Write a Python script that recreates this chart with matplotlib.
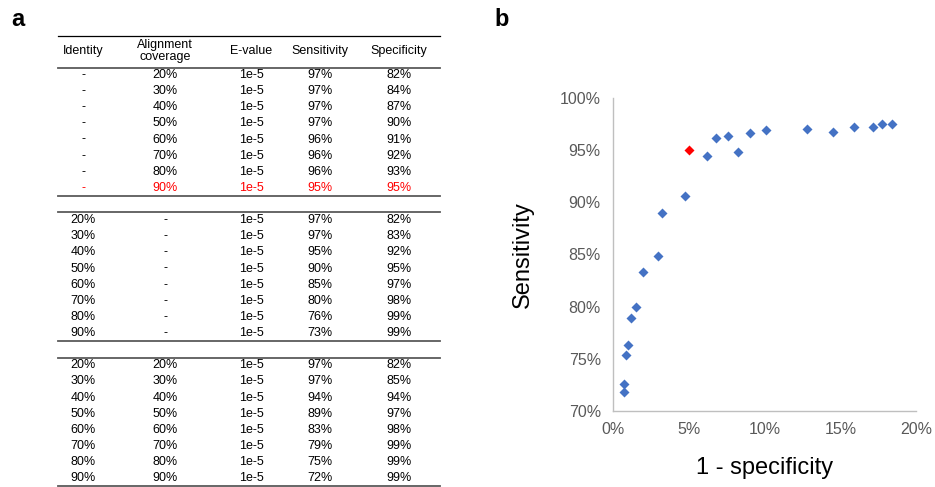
import matplotlib.pyplot as plt
from matplotlib.ticker import PercentFormatter

plt.rcParams['font.family'] = ['Liberation Sans', 'DejaVu Sans']

# ---- table data (panel a) ----
headers = ['Identity', 'Alignment\ncoverage', 'E-value', 'Sensitivity', 'Specificity']
identity = ['-'] * 8 + ['20%', '30%', '40%', '50%', '60%', '70%', '80%', '90%'] \
    + ['20%', '30%', '40%', '50%', '60%', '70%', '80%', '90%']
coverage = ['20%', '30%', '40%', '50%', '60%', '70%', '80%', '90%'] + ['-'] * 8 \
    + ['20%', '30%', '40%', '50%', '60%', '70%', '80%', '90%']
evalue = ['1e-5'] * 24
sensitivity = ['97%', '97%', '97%', '97%', '96%', '96%', '96%', '95%',
               '97%', '97%', '95%', '90%', '85%', '80%', '76%', '73%',
               '97%', '97%', '94%', '89%', '83%', '79%', '75%', '72%']
specificity = ['82%', '84%', '87%', '90%', '91%', '92%', '93%', '95%',
               '82%', '83%', '92%', '95%', '97%', '98%', '99%', '99%',
               '82%', '85%', '94%', '97%', '98%', '99%', '99%', '99%']
highlight_row = 7

# ---- scatter data (panel b), 1 - specificity vs sensitivity ----
fpr = [0.73, 0.73, 0.82, 0.99, 1.19, 1.52, 1.98, 2.95, 3.2, 4.74,
       6.21, 6.76, 7.56, 8.22, 9.03, 10.09, 12.78, 14.5, 15.93, 17.14, 17.78, 18.42]
sens = [71.8, 72.6, 75.4, 76.3, 78.9, 80.0, 83.3, 84.9, 89.0, 90.6,
        94.4, 96.2, 96.4, 94.8, 96.6, 96.9, 97.0, 96.7, 97.2, 97.2, 97.5, 97.5]
chosen_fpr = [4.98]
chosen_sens = [95.0]

W, H = 935, 487
fig = plt.figure(figsize=(W / 100, H / 100), dpi=100)

# ---- panel a: table ----
tx0, tx1 = 58, 440
ty0, ty1 = 28, 487
axt = fig.add_axes([tx0 / W, 1 - ty1 / H, (tx1 - tx0) / W, (ty1 - ty0) / H])
row_h = 16.13
axt.set_xlim(tx0, tx1)
axt.set_ylim((ty1 - 75) / row_h, (ty0 - 75) / row_h)
axt.axis('off')

col_x = [83, 165, 251.5, 320, 399]
fs = 9
for cx, h in zip(col_x, headers):
    axt.text(cx, -1.5, h, ha='center', va='center', fontsize=fs, linespacing=1.05)

columns = [identity, coverage, evalue, sensitivity, specificity]
for i in range(len(evalue)):
    r = i + (i // 8)  # one blank row between groups
    color = 'red' if i == highlight_row else 'black'
    for cx, col in zip(col_x, columns):
        axt.text(cx, r, col[i], ha='center', va='center', fontsize=fs, color=color)

axt.plot([tx0, tx1], [-2.42, -2.42], color='black', lw=0.9, clip_on=False)
for yl in [-0.43, 7.53, 8.52, 16.52, 17.52, 25.45]:
    axt.plot([tx0, tx1], [yl, yl], color='#5a5a5a', lw=1.3, clip_on=False)

fig.text(11 / W, 1 - 26 / H, 'a', fontsize=17, fontweight='bold', va='baseline')
fig.text(494 / W, 1 - 26 / H, 'b', fontsize=17, fontweight='bold', va='baseline')

# ---- panel b: scatter ----
ax = fig.add_axes([613.3 / W, 1 - 411 / H, (916 - 613.3) / W, (411 - 98) / H])
ax.plot(fpr, sens, 'D', color='#4472C4', ms=5.2, mec='none')
ax.plot(chosen_fpr, chosen_sens, 'D', color='#FF0000', ms=5.2, mec='none')
ax.set_xlim(0, 20)
ax.set_ylim(70, 100)
ax.set_xticks([0, 5, 10, 15, 20])
ax.set_yticks([70, 75, 80, 85, 90, 95, 100])
ax.xaxis.set_major_formatter(PercentFormatter(decimals=0))
ax.yaxis.set_major_formatter(PercentFormatter(decimals=0))
ax.tick_params(length=0, labelsize=11.5, labelcolor='#595959')
ax.tick_params(axis='y', pad=9)
ax.tick_params(axis='x', pad=8)
for s in ['top', 'right']:
    ax.spines[s].set_visible(False)
for s in ['left', 'bottom']:
    ax.spines[s].set_color('#bfbfbf')
    ax.spines[s].set_linewidth(1.0)
ax.set_xlabel('1 - specificity', fontsize=17, labelpad=14)
ax.set_ylabel('Sensitivity', fontsize=17, labelpad=19)

fig.savefig('out.png', dpi=100)
